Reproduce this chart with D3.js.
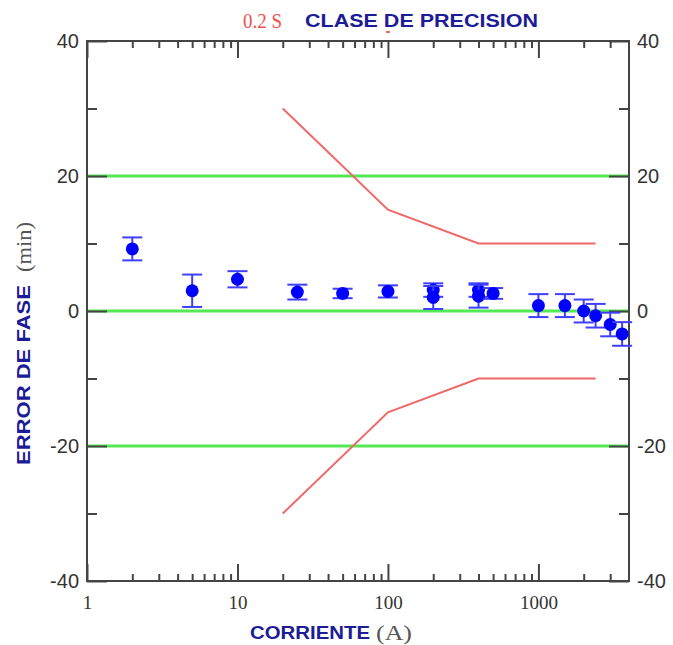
<!DOCTYPE html>
<html>
<head>
<meta charset="utf-8">
<script src="https://cdn.jsdelivr.net/npm/d3@7"></script>
<style>
  body { margin: 0; background: #fff; }
  svg { display: block; }
</style>
</head>
<body>
<svg id="chart"></svg>
<script>
// Measured points: current (A), phase error (min), error bar half-width (min)
const currents = [2, 5, 10, 25, 50, 100, 200, 200, 400, 400, 500, 1000, 1500, 2000, 2400, 3000, 3600];
const phaseErrors = [9.2, 3.0, 4.7, 2.8, 2.6, 2.9, 3.1, 2.0, 3.1, 2.2, 2.6, 0.8, 0.8, 0.0, -0.7, -2.0, -3.4];
const errorBars = [1.7, 2.4, 1.2, 1.1, 0.7, 0.9, 1.0, 1.7, 1.0, 1.7, 0.8, 1.7, 1.7, 1.7, 1.75, 1.75, 1.75];

// Class 0.2 S limits
const limitCurrents = [20, 100, 400, 2400];
const limitValues = [30, 15, 10, 10];

// Reference lines
const greenLines = [20, 0, -20];

// Ticks
const xMajorTicks = [1, 10, 100, 1000];
const xMinorTicks = [2, 3, 4, 5, 6, 7, 8, 9, 20, 30, 40, 50, 60, 70, 80, 90,
  200, 300, 400, 500, 600, 700, 800, 900, 2000, 3000];
const yMajorTicks = [-40, -20, 0, 20, 40];
const yMinorTicks = [-30, -10, 10, 30];

const margin = { top: 41, right: 44, bottom: 64, left: 87 };
const width = 673 - margin.left - margin.right;
const height = 645 - margin.top - margin.bottom;

const svg = d3.select("#chart")
    .attr("width", 673)
    .attr("height", 645);

const g = svg.append("g")
    .attr("transform", `translate(${margin.left},${margin.top})`);

const x = d3.scaleLog().domain([1, 4000]).range([0, width]);
const y = d3.scaleLinear().domain([-40, 40]).range([height, 0]);

const axisColor = "#444";
const labelBlue = "#1c1c96";
const sans = "'Liberation Sans', Arial, sans-serif";
const serif = "'Liberation Serif', 'Times New Roman', serif";

// Green reference lines
g.selectAll(".green")
    .data(greenLines)
    .enter()
    .append("line")
    .attr("x1", 0)
    .attr("x2", width)
    .attr("y1", d => y(d))
    .attr("y2", d => y(d))
    .attr("stroke", "#55e855")
    .attr("stroke-width", 3);

// Red limit lines (upper and lower)
const line = d3.line()
    .x(d => x(d[0]))
    .y(d => y(d[1]));

const upper = limitCurrents.map((c, i) => [c, limitValues[i]]);
const lower = limitCurrents.map((c, i) => [c, -limitValues[i]]);

[upper, lower].forEach(pts => {
    g.append("path")
        .datum(pts)
        .attr("d", line)
        .attr("fill", "none")
        .attr("stroke", "#f06868")
        .attr("stroke-width", 2);
});

// Axes helper: inward ticks, no domain path
function styleAxis(sel, fontFamily, fontSize) {
    sel.select(".domain").remove();
    sel.selectAll(".tick line").attr("stroke", axisColor).attr("stroke-width", 2);
    sel.selectAll(".tick text")
        .attr("fill", "#333")
        .style("font-family", fontFamily)
        .style("font-size", fontSize);
}

const plainFormat = d => String(d);

// Y axes, left and right
g.append("g")
    .call(d3.axisLeft(y).tickValues(yMajorTicks).tickSize(-20).tickPadding(8).tickFormat(plainFormat))
    .call(s => styleAxis(s, sans, "20px"));
g.append("g")
    .call(d3.axisLeft(y).tickValues(yMinorTicks).tickSize(-10).tickFormat(""))
    .call(s => styleAxis(s, sans, "20px"));
g.append("g")
    .attr("transform", `translate(${width},0)`)
    .call(d3.axisRight(y).tickValues(yMajorTicks).tickSize(-20).tickPadding(8).tickFormat(plainFormat))
    .call(s => styleAxis(s, sans, "20px"));
g.append("g")
    .attr("transform", `translate(${width},0)`)
    .call(d3.axisRight(y).tickValues(yMinorTicks).tickSize(-10).tickFormat(""))
    .call(s => styleAxis(s, sans, "20px"));

// X axes, bottom and top
g.append("g")
    .attr("transform", `translate(0,${height})`)
    .call(d3.axisBottom(x).tickValues(xMajorTicks).tickSize(-17).tickPadding(15).tickFormat(plainFormat))
    .call(s => styleAxis(s, serif, "19px"));
g.append("g")
    .attr("transform", `translate(0,${height})`)
    .call(d3.axisBottom(x).tickValues(xMinorTicks).tickSize(-7).tickFormat(""))
    .call(s => styleAxis(s, serif, "19px"));
g.append("g")
    .call(d3.axisTop(x).tickValues(xMajorTicks).tickSize(-17).tickFormat(""))
    .call(s => styleAxis(s, serif, "19px"));
g.append("g")
    .call(d3.axisTop(x).tickValues(xMinorTicks).tickSize(-7).tickFormat(""))
    .call(s => styleAxis(s, serif, "19px"));

// Frame
g.append("rect")
    .attr("width", width)
    .attr("height", height)
    .attr("fill", "none")
    .attr("stroke", axisColor)
    .attr("stroke-width", 2);

// Data with error bars
const data = currents.map((c, i) => ({ c, v: phaseErrors[i], e: errorBars[i] }));
const capHalf = 10;
const barColor = "#3f3fff";

const pts = g.selectAll(".pt")
    .data(data)
    .enter()
    .append("g")
    .attr("class", "pt");

pts.append("line")
    .attr("x1", d => x(d.c)).attr("x2", d => x(d.c))
    .attr("y1", d => y(d.v + d.e)).attr("y2", d => y(d.v - d.e))
    .attr("stroke", barColor).attr("stroke-width", 2);
pts.append("line")
    .attr("x1", d => x(d.c) - capHalf).attr("x2", d => x(d.c) + capHalf)
    .attr("y1", d => y(d.v + d.e)).attr("y2", d => y(d.v + d.e))
    .attr("stroke", barColor).attr("stroke-width", 2);
pts.append("line")
    .attr("x1", d => x(d.c) - capHalf).attr("x2", d => x(d.c) + capHalf)
    .attr("y1", d => y(d.v - d.e)).attr("y2", d => y(d.v - d.e))
    .attr("stroke", barColor).attr("stroke-width", 2);
pts.append("circle")
    .attr("cx", d => x(d.c))
    .attr("cy", d => y(d.v))
    .attr("r", 6.5)
    .attr("fill", "#0000ff");

// Small red mark under the title, above the frame
g.append("line")
    .attr("x1", x(100) - 2).attr("x2", x(100) + 2)
    .attr("y1", -9).attr("y2", -9)
    .attr("stroke", "#f06868").attr("stroke-width", 2);

// Helper for labels stretched to the width seen in the picture
function label(parent, txt, font, size, bold, fill, len) {
    return parent.append("text")
        .style("font-family", font)
        .style("font-size", size)
        .style("font-weight", bold ? "bold" : "normal")
        .attr("fill", fill)
        .attr("textLength", len)
        .attr("lengthAdjust", "spacingAndGlyphs")
        .text(txt);
}

// Title
label(svg, "0.2 S", serif, "21px", false, "#f05050", 39)
    .attr("x", 243).attr("y", 28);
label(svg, "CLASE  DE  PRECISION", sans, "18px", true, labelBlue, 233)
    .attr("x", 305).attr("y", 27);

// X-axis label
label(svg, "CORRIENTE", sans, "18px", true, labelBlue, 120)
    .attr("x", 250).attr("y", 639);
label(svg, "(A)", serif, "21px", false, "#555", 36)
    .attr("x", 376).attr("y", 640);

// Y-axis label
label(svg, "ERROR  DE  FASE", sans, "18px", true, labelBlue, 180)
    .attr("transform", "translate(30,465) rotate(-90)");
label(svg, "(min)", serif, "21px", false, "#555", 50)
    .attr("transform", "translate(31,272) rotate(-90)");
</script>
</body>
</html>
